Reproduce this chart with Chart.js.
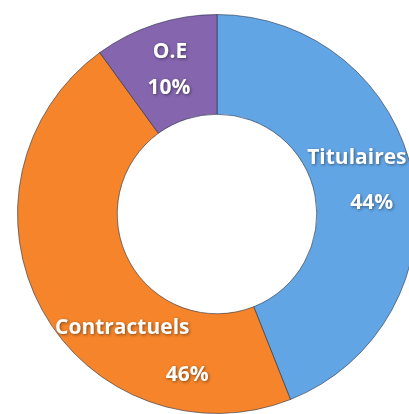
<!DOCTYPE html>
<html>
<head>
<meta charset="utf-8">
<script src="https://cdn.jsdelivr.net/npm/chart.js@4"></script>
<style>
    html, body { margin: 0; padding: 0; background: #fff; overflow: hidden; width: 409px; height: 414px; }
    #wrap { position: absolute; left: 0; top: 0; width: 434px; height: 428px; }
</style>
</head>
<body>
<div id="wrap"><canvas id="donut"></canvas></div>
<script>
// chart data
const categories = ["Titulaires", "Contractuels", "O.E"];
const shares = [44, 46, 10];
const sliceColors = ["#62a5e5", "#f5842a", "#8465ae"];
const sliceEdges = ["#3f78b0", "#b85e18", "#5c4580"];

// label placement, polar: [angle from top in degrees, radius factor of outer radius]
const namePos = [[68.2, 0.755], [219.8, 0.742], [343.8, 0.845]];
const valuePos = [[85.9, 0.777], [190.5, 0.819], [339.1, 0.675]];

function ringGradient(context) {
    const chart = context.chart;
    const meta = chart.getDatasetMeta(0);
    const arc = meta.data[context.dataIndex];
    if (!arc || !arc.outerRadius) return sliceColors[context.dataIndex];
    const { x, y, innerRadius, outerRadius } = arc;
    const g = chart.ctx.createRadialGradient(x, y, innerRadius, x, y, outerRadius);
    const base = sliceColors[context.dataIndex];
    const edge = sliceEdges[context.dataIndex];
    g.addColorStop(0, edge);
    g.addColorStop(0.09, base);
    g.addColorStop(0.9, base);
    g.addColorStop(1, edge);
    return g;
}

const labelPlugin = {
    id: "sliceLabels",
    afterDatasetsDraw(chart) {
        const ctx = chart.ctx;
        const arc = chart.getDatasetMeta(0).data[0];
        const cx = arc.x, cy = arc.y, r = arc.outerRadius;
        ctx.save();
        ctx.font = "bold 21px 'Open Sans', 'DejaVu Sans', sans-serif";
        ctx.textAlign = "center";
        ctx.textBaseline = "middle";
        ctx.fillStyle = "#ffffff";
        ctx.shadowColor = "rgba(0,0,0,0.45)";
        ctx.shadowBlur = 3;
        ctx.shadowOffsetX = 1;
        ctx.shadowOffsetY = 1;
        const total = shares.reduce((a, b) => a + b, 0);
        categories.forEach((name, i) => {
            const put = (pos, text) => {
                const a = pos[0] * Math.PI / 180;
                ctx.fillText(text, cx + Math.sin(a) * r * pos[1], cy - Math.cos(a) * r * pos[1]);
            };
            put(namePos[i], name);
            put(valuePos[i], Math.round(shares[i] / total * 100) + "%");
        });
        ctx.restore();
    }
};

new Chart(document.getElementById("donut"), {
    type: "doughnut",
    data: {
        labels: categories,
        datasets: [{
            data: shares,
            backgroundColor: ringGradient,
            borderColor: "rgba(40,50,70,0.6)",
            borderWidth: 1
        }]
    },
    options: {
        responsive: true,
        maintainAspectRatio: false,
        animation: false,
        cutout: "50%",
        layout: { padding: 14 },
        plugins: {
            legend: { display: false },
            tooltip: { enabled: false }
        }
    },
    plugins: [labelPlugin]
});
</script>
</body>
</html>
